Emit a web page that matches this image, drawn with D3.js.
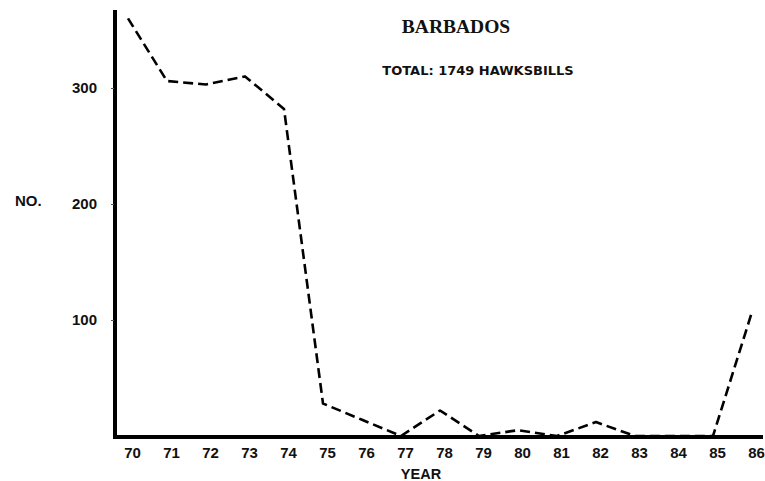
<!DOCTYPE html>
<html>
<head>
<meta charset="utf-8">
<script src="https://cdn.jsdelivr.net/npm/d3@7"></script>
<style>
  body { margin: 0; background: #fff; }
  text { font-family: 'Liberation Sans', Arial, sans-serif; font-weight: bold; fill: #111; }
</style>
</head>
<body>
<div id="chart"></div>
<script>
// values
const years = [70, 71, 72, 73, 74, 75, 76, 77, 78, 79, 80, 81, 82, 83, 84, 85, 86]
const counts = [360, 306, 303, 310, 282, 28, 14, 0, 22, 0, 5, 0, 12, 0, 0, 0, 107]
const yTicks = [100, 200, 300]

const width = 765
const height = 481

const svg = d3
  .select('#chart')
  .append('svg')
  .attr('width', width)
  .attr('height', height)

const xPositionScale = d3.scaleLinear().domain([70, 86]).range([128, 752])
const yPositionScale = d3.scaleLinear().domain([0, 300]).range([436, 88])

const data = years.map((y, i) => ({ year: y, count: counts[i] }))

// axes lines (drawn thick, like the original print)
svg
  .append('line')
  .attr('x1', 115)
  .attr('x2', 115)
  .attr('y1', 10)
  .attr('y2', 438)
  .attr('stroke', '#000')
  .attr('stroke-width', 4)

svg
  .append('line')
  .attr('x1', 113)
  .attr('x2', 763)
  .attr('y1', 437)
  .attr('y2', 437)
  .attr('stroke', '#000')
  .attr('stroke-width', 4)

const yAxis = d3
  .axisLeft(yPositionScale)
  .tickValues(yTicks)
  .tickSize(3)
  .tickPadding(14)

svg
  .append('g')
  .attr('class', 'axis y-axis')
  .attr('transform', 'translate(114,0)')
  .call(yAxis)

svg.select('.y-axis .domain').remove()
svg.selectAll('.y-axis text').attr('font-size', 15).attr('fill', '#111')
svg.selectAll('.y-axis line').attr('stroke', '#555').attr('stroke-width', 1)

const xAxis = d3
  .axisBottom(xPositionScale)
  .tickValues(years)
  .tickSize(0)
  .tickPadding(10)
  .tickFormat(d3.format('d'))

// labels sit a few px right of the plotted points in the print
svg
  .append('g')
  .attr('class', 'axis x-axis')
  .attr('transform', 'translate(4,437)')
  .call(xAxis)

svg.select('.x-axis .domain').remove()
svg.selectAll('.x-axis text').attr('font-size', 15).attr('fill', '#111')

const line = d3
  .line()
  .x(d => xPositionScale(d.year))
  .y(d => yPositionScale(d.count))

svg
  .append('path')
  .datum(data)
  .attr('d', line)
  .attr('fill', 'none')
  .attr('stroke', '#000')
  .attr('stroke-width', 2.6)
  .attr('stroke-dasharray', '10,5')
  .attr('stroke-linejoin', 'round')

// labels
svg
  .append('text')
  .attr('x', 456)
  .attr('y', 33)
  .attr('text-anchor', 'middle')
  .attr('font-size', 19.5)
  .style('font-family', "'Liberation Serif', serif")
  .text('BARBADOS')

svg
  .append('text')
  .attr('x', 478)
  .attr('y', 75)
  .attr('text-anchor', 'middle')
  .attr('font-size', 13)
  .style('font-family', "'DejaVu Sans', sans-serif")
  .text('TOTAL: 1749 HAWKSBILLS')

svg
  .append('text')
  .attr('x', 15)
  .attr('y', 206)
  .attr('font-size', 15)
  .text('NO.')

svg
  .append('text')
  .attr('x', 421)
  .attr('y', 479)
  .attr('text-anchor', 'middle')
  .attr('font-size', 14.5)
  .text('YEAR')
</script>
</body>
</html>
